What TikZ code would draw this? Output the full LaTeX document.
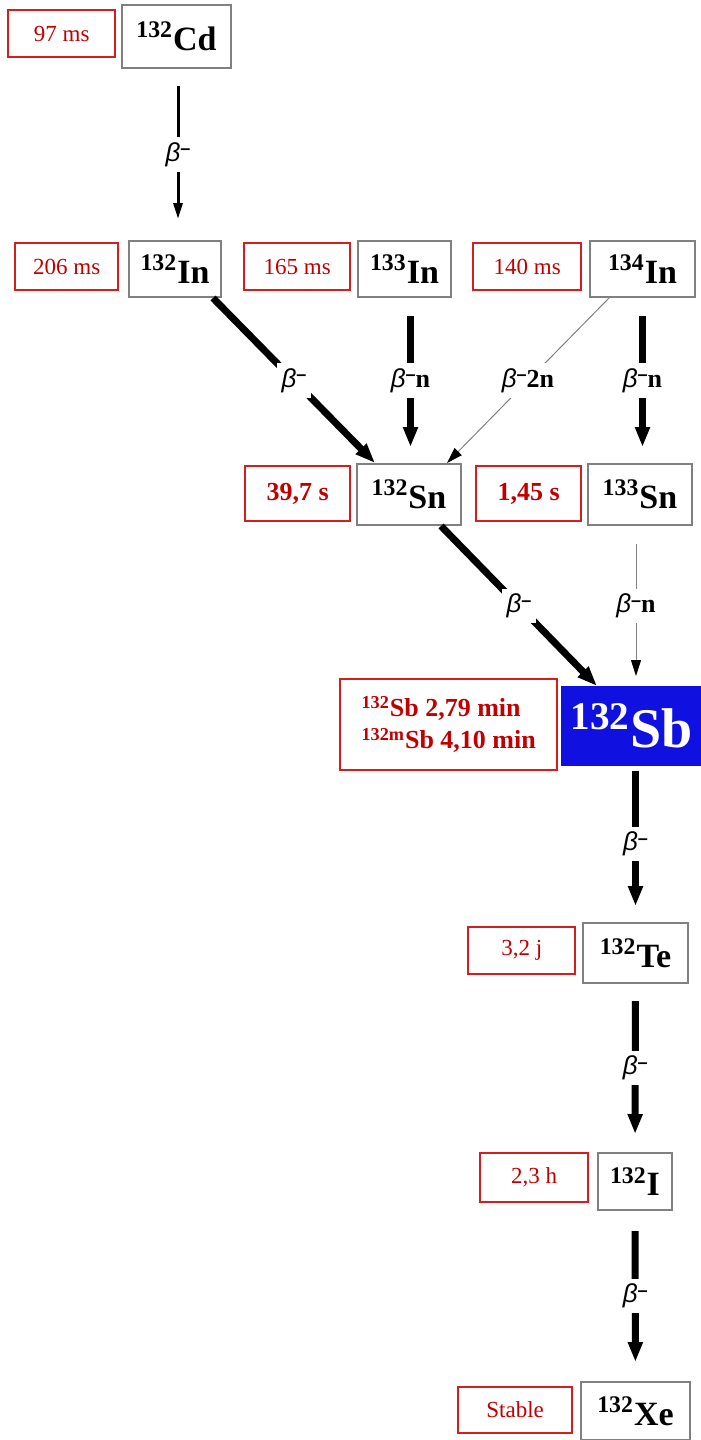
\documentclass[tikz,border=0pt]{standalone}
\usepackage{fontspec}
\setmainfont{Liberation Serif}
\newfontfamily\betafont{Liberation Sans}
\usetikzlibrary{positioning,arrows.meta}
\definecolor{DecayRed}{HTML}{C00000}
\definecolor{FrameRed}{HTML}{D02020}
\definecolor{FrameGray}{HTML}{808080}
\definecolor{SbBlue}{HTML}{1010E0}
\newcommand{\bminus}{{\betafont\itshape β}\raisebox{0.55ex}{\betafont\fontsize{9}{9}\selectfont\textbf{–}}}

\begin{document}
\begin{tikzpicture}[x=0.5pt,y=-0.5pt,
  nuc/.style={draw=FrameGray,line width=1pt,fill=white,inner sep=0pt,font=\bfseries\fontsize{17}{17}\selectfont},
  half/.style={draw=FrameRed,line width=0.8pt,inner sep=0pt,text=DecayRed,font=\fontsize{11.5}{12}\selectfont},
  halfb/.style={half,font=\bfseries\fontsize{13}{16}\selectfont},
  thk/.style={line width=3.5pt,-{Triangle[length=10pt,width=7pt]}},
  med/.style={line width=1.5pt,-{Triangle[length=8pt,width=4.5pt]}},
  thn/.style={line width=0.5pt,draw=FrameGray,-{Triangle[length=8pt,width=5pt,color=black]}},
  lbl/.style={fill=white,inner sep=2.5pt,font=\fontsize{13}{13}\selectfont}
]
\useasboundingbox (0,0) rectangle (701,1440);

% nuclides
\node[nuc,minimum width=54.5pt,minimum height=31.5pt] (Cd132) at (176.5,36.5) {\textsuperscript{132}Cd};
\node[nuc,minimum width=46pt,minimum height=28pt] (In132) at (175,269) {\textsuperscript{132}In};
\node[nuc,minimum width=46.5pt,minimum height=28pt] (In133) at (404.5,269) {\textsuperscript{133}In};
\node[nuc,minimum width=52.5pt,minimum height=28pt] (In134) at (642.5,269) {\textsuperscript{134}In};
\node[nuc,minimum width=52pt,minimum height=30.5pt] (Sn132) at (409,494.5) {\textsuperscript{132}Sn};
\node[nuc,minimum width=52pt,minimum height=30.5pt] (Sn133) at (640,494.5) {\textsuperscript{133}Sn};
\node[nuc,draw=SbBlue,fill=SbBlue,text=white,font=\bfseries\fontsize{28}{28}\selectfont,
  minimum width=69.5pt,minimum height=39pt] (Sb132) at (631.5,726) {\textsuperscript{132}Sb};
\node[nuc,minimum width=52.5pt,minimum height=30pt] (Te132) at (635.5,953) {\textsuperscript{132}Te};
\node[nuc,minimum width=37pt,minimum height=28.5pt] (I132) at (635,1181.5) {\textsuperscript{132}I};
\node[nuc,minimum width=54.5pt,minimum height=29pt] (Xe132) at (635.5,1411) {\textsuperscript{132}Xe};

% half-lives
\node[half,minimum width=53.5pt,minimum height=23.5pt,left=2.5pt of Cd132,yshift=1.5pt] (t97) {97 ms};
\node[half,minimum width=51.5pt,minimum height=23.5pt,left=4.5pt of In132,yshift=1.25pt] (t206) {206 ms};
\node[half,minimum width=53pt,minimum height=23.5pt,left=3pt of In133,yshift=1.25pt] (t165) {165 ms};
\node[half,minimum width=54pt,minimum height=23.5pt,left=3.5pt of In134,yshift=1.25pt] (t140) {140 ms};
\node[halfb,minimum width=52.5pt,minimum height=27.5pt,left=2.5pt of Sn132,yshift=0.5pt] (t397) {39,7 s};
\node[halfb,minimum width=52.5pt,minimum height=27.5pt,left=2.5pt of Sn133,yshift=0.5pt] (t145) {1,45 s};
\node[halfb,align=left,minimum width=108.5pt,minimum height=45.5pt,left=1.5pt of Sb132,yshift=0.75pt] (tSb)
  {\textsuperscript{132}Sb 2,79 min\\\textsuperscript{132m}Sb 4,10 min};
\node[half,minimum width=53.5pt,minimum height=23.5pt,left=3pt of Te132,yshift=1.25pt] (t32) {3,2 j};
\node[half,minimum width=54pt,minimum height=24.5pt,left=4pt of I132,yshift=2pt] (t23) {2,3 h};
\node[half,minimum width=57pt,minimum height=23pt,left=3.5pt of Xe132,yshift=0.5pt] (tStable) {Stable};

% decays
\draw[med,shorten <=8.5pt,shorten >=10.5pt] ([xshift=0.75pt]Cd132.south) -- node[lbl]{\bminus} ([xshift=0.75pt]Cd132.south |- In132.north);
\draw[thk] ([xshift=-4.5pt]In132.south east) -- node[lbl]{\bminus} ([xshift=9.5pt]Sn132.north west);
\draw[thk,shorten <=9pt,shorten >=8pt] ([xshift=3pt]In133.south) -- node[lbl]{\bminus\textbf{n}} ([xshift=3pt]In133.south |- Sn132.north);
\draw[thn] ([xshift=10pt]In134.south west) -- node[lbl]{\bminus\textbf{2n}} ([xshift=-7.5pt]Sn132.north east);
\draw[thk,shorten <=9pt,shorten >=8pt] (In134.south) -- node[lbl]{\bminus\textbf{n}} (In134.south |- Sn133.north);
\draw[thk] ([xshift=-10.5pt]Sn132.south east) -- node[lbl]{\bminus} ([xshift=18pt]Sb132.north west);
\draw[thn,shorten <=9pt,shorten >=5pt] ([xshift=-2pt]Sn133.south) -- node[lbl]{\bminus\textbf{n}} ([xshift=-2pt]Sn133.south |- Sb132.north);
\draw[thk,shorten <=2.5pt,shorten >=8pt] (Sb132.south -| Te132) -- node[lbl]{\bminus} (Te132);
\draw[thk,shorten <=8.5pt,shorten >=9pt] (Te132) -- node[lbl]{\bminus} (I132);
\draw[thk,shorten <=10pt,shorten >=9.5pt] (I132) -- node[lbl]{\bminus} (Xe132);
\end{tikzpicture}
\end{document}
